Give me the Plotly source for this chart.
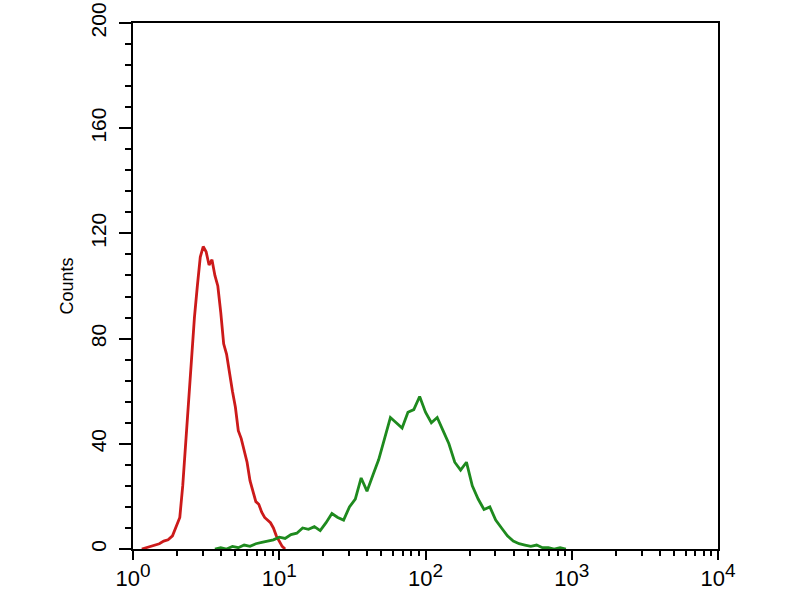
import numpy as np
import plotly.graph_objects as go

# Histogram data: bin positions as log10(fluorescence intensity), counts per bin
red_log_x = [0.06, 0.09, 0.12, 0.15, 0.18, 0.21, 0.24, 0.27, 0.30, 0.32, 0.34, 0.36, 0.38,
             0.40, 0.42, 0.44, 0.46, 0.48, 0.50, 0.52, 0.54, 0.56, 0.58, 0.60, 0.62, 0.64,
             0.66, 0.68, 0.70, 0.72, 0.74, 0.76, 0.78, 0.80, 0.82, 0.84, 0.86, 0.88, 0.90,
             0.92, 0.94, 0.96, 0.98, 1.00, 1.02, 1.04]
red_counts = [0, 0.5, 1, 1.5, 2, 3, 3.5, 5, 9, 12, 24, 40, 57,
              76, 88, 100, 111, 115, 113, 108, 110, 104, 100, 90, 78, 74,
              66, 60, 54, 45, 42, 38, 33, 26, 22, 18, 17, 14, 12,
              11, 10, 8, 5, 3, 1, 0]

green_log_x = [0.56, 0.60, 0.64, 0.68, 0.72, 0.76, 0.80, 0.84, 0.88, 0.92, 0.96, 1.00,
               1.04, 1.08, 1.12, 1.16, 1.20, 1.24, 1.28, 1.32, 1.36, 1.40, 1.44, 1.48,
               1.52, 1.56, 1.60, 1.64, 1.68, 1.72, 1.76, 1.80, 1.84, 1.88, 1.92, 1.96,
               1.98, 2.00, 2.04, 2.08, 2.12, 2.16, 2.20, 2.24, 2.28, 2.32, 2.36, 2.40,
               2.44, 2.48, 2.52, 2.56, 2.60, 2.64, 2.68, 2.72, 2.76, 2.80, 2.84, 2.88,
               2.92, 2.96]
green_counts = [0, 0.5, 0, 1, 0.5, 1.5, 1, 2, 2.5, 3, 3.5, 4.5,
                4, 5.5, 6, 8, 7.5, 8.5, 7, 10, 13.5, 12, 11, 16,
                19, 27, 22, 28, 34, 42, 50, 48, 46, 52, 53, 58,
                55, 52, 48, 50, 45, 40, 33, 30, 33, 24, 19, 15,
                16, 11, 8, 5, 3, 2, 1.5, 1, 1.5, 0.5, 0.5, 0,
                0.5, 0]

x_tickvals = [1, 10, 100, 1000, 10000]
x_exponents = ["0", "1", "2", "3", "4"]
y_tickvals = [0, 40, 80, 120, 160, 200]

x_ticktext = ["10<sup><span style='font-size:19px'>%s</span></sup>" % e for e in x_exponents]
red_x = [10 ** v for v in red_log_x]
green_x = [10 ** v for v in green_log_x]

fig = go.Figure()
fig.add_trace(go.Scatter(x=red_x, y=red_counts, mode="lines",
                         line=dict(color="#cc1a1a", width=2.8), showlegend=False))
fig.add_trace(go.Scatter(x=green_x, y=green_counts, mode="lines",
                         line=dict(color="#1e8a1e", width=2.8), showlegend=False))

font = "Liberation Sans, Arial, sans-serif"
fig.update_layout(
    width=800, height=600,
    margin=dict(l=133, r=82, t=23, b=51),
    paper_bgcolor="white", plot_bgcolor="white",
    font=dict(family=font, color="black"),
)
fig.update_xaxes(
    type="log", range=[0, 4], automargin=False,
    tickvals=x_tickvals, ticktext=x_ticktext,
    tickfont=dict(size=22, family=font),
    ticks="outside", ticklen=9, tickwidth=2, tickcolor="black",
    minor=dict(ticks="outside", ticklen=5, tickwidth=2, tickcolor="black", dtick="D1"),
    showline=True, linecolor="black", linewidth=2, mirror=True,
    showgrid=False, zeroline=False, ticklabeloverflow="allow",
)
fig.update_yaxes(
    range=[0, 200], automargin=False,
    tickvals=y_tickvals, tickangle=-90,
    tickfont=dict(size=21, family=font),
    ticks="outside", ticklen=12, tickwidth=2, tickcolor="black",
    minor=dict(ticks="outside", ticklen=6, tickwidth=2, tickcolor="black", dtick=8, tick0=0),
    showline=True, linecolor="black", linewidth=2, mirror=True,
    showgrid=False, zeroline=False, ticklabeloverflow="allow",
    ticklabelstandoff=5,
    title=dict(text="Counts", font=dict(size=18, family=font), standoff=8),
)

fig.write_html("out.html", config={"displayModeBar": False},
               post_script="document.body.style.margin='0';")
